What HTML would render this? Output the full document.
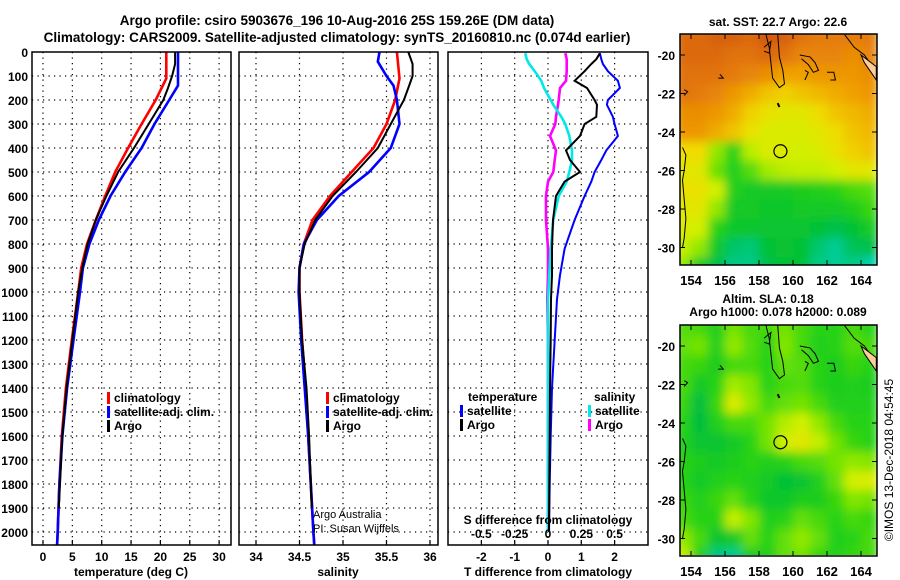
<!DOCTYPE html>
<html><head><meta charset="utf-8">
<style>
html,body{margin:0;padding:0;background:#fff;}
svg{display:block;font-family:"Liberation Sans",sans-serif;font-weight:bold;}
</style></head>
<body>
<svg id="fig" width="900" height="580" viewBox="0 0 900 580" xmlns="http://www.w3.org/2000/svg">
<defs>
<filter id="blur" x="0" y="0" width="1" height="1"><feGaussianBlur stdDeviation="5" edgeMode="duplicate"/></filter>
<clipPath id="clipMap1"><rect x="680" y="34" width="197" height="231"/></clipPath>
<clipPath id="clipMap2"><rect x="680" y="325" width="197" height="230"/></clipPath>
</defs>
<text x="337" y="25" font-size="13.5" text-anchor="middle">Argo profile: csiro 5903676_196 10-Aug-2016 25S 159.26E (DM data)</text>
<text x="337" y="42" font-size="13.5" text-anchor="middle">Climatology: CARS2009. Satellite-adjusted climatology: synTS_20160810.nc (0.074d earlier)</text>
<text x="778" y="26" font-size="12" text-anchor="middle">sat. SST: 22.7 Argo: 22.6</text>
<text x="768" y="303" font-size="12" text-anchor="middle">Altim. SLA: 0.18</text>
<text x="778" y="316" font-size="12" text-anchor="middle">Argo h1000: 0.078 h2000: 0.089</text>
<text transform="translate(893,460) rotate(-90)" font-size="12" font-weight="normal" text-anchor="middle">©IMOS 13-Dec-2018 04:54:45</text>
<g id="layer"></g>
</svg>
<script>
// ---------- data ----------
const depthTicks=[0,100,200,300,400,500,600,700,800,900,1000,1100,1200,1300,1400,1500,1600,1700,1800,1900,2000];
const tempTicks=[0,5,10,15,20,25,30];
const salTicks=[34,34.5,35,35.5,36];
const tdiffTicks=[-2,-1,0,1,2];
const sdiffTicks=[-0.5,-0.25,0,0.25,0.5];
const sdiffTickLabels=["-0.5","-0.25","0","0.25","0.5"];
const lonTicks=[154,156,158,160,162,164];
const latTicks=[-20,-22,-24,-26,-28,-30];

const climDepth=[0,110,200,300,400,500,600,700,800,900,1000,1200,1400,1600,1800,2000,2054];
const climTemp=[21.0,21.0,19.2,16.8,14.5,12.3,10.6,9.0,7.5,6.5,6.0,4.9,3.9,3.2,2.8,2.5,2.4];
const climSal=[35.62,35.65,35.6,35.5,35.35,35.1,34.85,34.65,34.55,34.5,34.5,34.53,34.57,34.6,34.63,34.66,34.67];
const satDepth=[0,40,100,140,200,300,400,500,600,700,800,900,1000,1200,1400,1600,1800,2000,2054];
const satTemp=[23.0,23.0,23.0,23.0,21.5,19.0,16.8,14.0,11.5,9.5,7.9,6.8,6.3,5.2,4.1,3.3,2.8,2.5,2.4];
const satSal=[35.42,35.4,35.5,35.58,35.62,35.65,35.55,35.3,34.95,34.7,34.55,34.5,34.49,34.52,34.56,34.6,34.63,34.66,34.67];
const argoDepth=[0,50,100,150,200,300,400,500,600,700,800,900,1000,1200,1400,1600,1800,1900];
const argoTemp=[22.5,22.5,22.0,21.3,20.5,18.0,15.5,12.8,10.8,9.0,7.6,6.7,6.0,5.0,4.0,3.3,2.9,2.7];
const argoSal=[35.75,35.8,35.8,35.75,35.7,35.55,35.4,35.15,34.88,34.68,34.56,34.5,34.5,34.53,34.58,34.61,34.63,34.64];

const diffDepth=[5,30,50,80,120,150,200,220,270,300,350,410,450,500,540,600,700,820,930,1030,1200,1400,1600,1800,2000];
const satTdiff=[1.56,1.6,1.65,1.8,2.1,2.16,1.8,1.77,1.95,2.0,2.1,1.75,1.6,1.4,1.3,1.1,0.8,0.5,0.36,0.27,0.2,0.12,0.08,0.05,0.03];
const argoTdiff=[1.56,1.45,1.3,1.1,0.8,1.17,1.4,1.47,1.45,1.1,0.96,0.54,0.66,0.96,0.5,0.24,0.15,0.12,0.12,0.09,0.08,0.06,0.05,0.04,0.03];
const satSdiff=[-0.17,-0.16,-0.14,-0.1,-0.05,-0.03,0.02,0.04,0.1,0.13,0.16,0.18,0.18,0.16,0.14,0.08,0.04,0.02,0.01,0.0,0.0,0.0,0.0,0.0,0.0];
const argoSdiff=[0.13,0.14,0.14,0.14,0.135,0.09,0.08,0.075,0.06,0.055,0.015,0.06,0.05,0.04,0.0,-0.015,-0.015,0.0,0.0,-0.005,0.0,0.0,0.0,0.0,0.0];

// map grids: rows lat -19..-31, cols lon 153.5..164.5 (values 0=cyan .. 1=dark red)
const sstGrid=[
[0.88,0.88,0.9,0.9,0.88,0.92,0.9,0.86,0.84,0.84,0.84,0.84],
[0.88,0.88,0.88,0.86,0.86,0.88,0.86,0.82,0.82,0.82,0.8,0.82],
[0.86,0.86,0.86,0.84,0.82,0.8,0.76,0.76,0.78,0.78,0.78,0.8],
[0.86,0.84,0.82,0.78,0.74,0.7,0.68,0.7,0.72,0.74,0.76,0.78],
[0.8,0.8,0.78,0.74,0.68,0.64,0.62,0.62,0.66,0.7,0.72,0.74],
[0.78,0.78,0.74,0.7,0.64,0.6,0.6,0.6,0.62,0.66,0.7,0.72],
[0.66,0.66,0.5,0.36,0.55,0.6,0.6,0.58,0.6,0.64,0.68,0.7],
[0.62,0.62,0.45,0.34,0.42,0.52,0.55,0.56,0.56,0.58,0.62,0.62],
[0.64,0.64,0.58,0.34,0.3,0.3,0.3,0.32,0.34,0.36,0.4,0.42],
[0.62,0.62,0.5,0.3,0.3,0.28,0.28,0.3,0.3,0.3,0.32,0.38],
[0.6,0.58,0.36,0.28,0.27,0.26,0.26,0.26,0.24,0.2,0.24,0.3],
[0.56,0.5,0.28,0.16,0.14,0.24,0.25,0.24,0.15,0.1,0.18,0.2],
[0.5,0.3,0.2,0.12,0.12,0.2,0.24,0.24,0.12,0.1,0.12,0.06]];
const slaGrid=[
[0.42,0.4,0.34,0.46,0.4,0.4,0.46,0.4,0.36,0.36,0.4,0.36],
[0.44,0.46,0.34,0.5,0.42,0.36,0.48,0.4,0.34,0.36,0.42,0.4],
[0.4,0.38,0.32,0.4,0.4,0.36,0.44,0.42,0.36,0.32,0.38,0.36],
[0.4,0.3,0.36,0.52,0.48,0.36,0.4,0.42,0.36,0.32,0.34,0.32],
[0.38,0.22,0.38,0.6,0.5,0.4,0.44,0.46,0.4,0.34,0.34,0.34],
[0.36,0.22,0.34,0.4,0.4,0.46,0.54,0.58,0.5,0.4,0.36,0.36],
[0.34,0.26,0.26,0.3,0.36,0.46,0.58,0.62,0.56,0.46,0.38,0.36],
[0.36,0.32,0.3,0.32,0.36,0.34,0.36,0.4,0.42,0.46,0.5,0.48],
[0.36,0.3,0.34,0.36,0.34,0.3,0.24,0.26,0.34,0.44,0.58,0.6],
[0.38,0.34,0.38,0.44,0.36,0.28,0.28,0.32,0.32,0.38,0.48,0.46],
[0.4,0.36,0.36,0.56,0.48,0.34,0.36,0.44,0.4,0.36,0.4,0.38],
[0.5,0.4,0.26,0.3,0.44,0.36,0.44,0.5,0.44,0.34,0.36,0.4],
[0.56,0.34,0.12,0.1,0.3,0.34,0.44,0.46,0.38,0.34,0.38,0.4]];
const argoLon=159.26, argoLat=-25.0;

// ---------- helpers ----------
const NS="http://www.w3.org/2000/svg";
const layer=document.getElementById('layer');
function el(tag,attrs,parent){const e=document.createElementNS(NS,tag);for(const k in attrs)e.setAttribute(k,attrs[k]);(parent||layer).appendChild(e);return e;}
const PT=52, PB=545;
const yD=d=>PT+d*0.24;
const P1={l:32,r:231}, P2={l:239,r:438}, P3={l:448,r:648};
const xT=t=>43+t*5.87;
const xS=s=>256+(s-34)*87;
const xTd=t=>548+t*33.3;
const xSd=s=>548+s*133.3;

function panel(P,name){
  const g=el('g',{});
  
  
  return g;
}
function frame(P,g){
  const r=el('rect',{x:P.l,y:PT,width:P.r-P.l,height:PB-PT,fill:'none',stroke:'#000','stroke-width':1.5},g);
  
  
}
function hgrid(P,g){
  depthTicks.forEach(d=>{
    if(d===0)return;
    const l=el('line',{x1:P.l,x2:P.r,y1:yD(d),y2:yD(d),stroke:'#000','stroke-width':1.2,'stroke-dasharray':'1.2 4.3'},g);
    
    
  });
}
function vgrid(xs,g){
  xs.forEach(x=>{
    const l=el('line',{x1:x,x2:x,y1:PT,y2:PB,stroke:'#000','stroke-width':1.2,'stroke-dasharray':'1.2 4.3'},g);
    
    
    el('line',{x1:x,x2:x,y1:PB,y2:PB-5,stroke:'#000','stroke-width':1.2},g);
  });
}
function series(xs,ds,fx,color,name,g,w){
  const pts=ds.map((d,i)=>fx(xs[i]).toFixed(1)+','+yD(d).toFixed(1)).join(' ');
  const p=el('polyline',{points:pts,fill:'none',stroke:color,'stroke-width':w||2.6,'stroke-linejoin':'miter'},g);
  
  
}
function txt(x,y,s,attrs,g,name){
  const t=el('text',Object.assign({x:x,y:y,'font-size':12},attrs||{}),g);
  t.textContent=s;
  
  
  return t;
}
function legendItem(x,y,color,label,g){
  const b=el('rect',{x:x,y:y-10,width:3,height:12,fill:color},g);
  
  
  txt(x+7,y,label,{},g,'legend-entry');
}

// ---------- panel 1: temperature ----------
const g1=panel(P1,'temperature-panel');
hgrid(P1,g1); vgrid(tempTicks.map(xT),g1);
series(climTemp,climDepth,xT,'#ff0000','climatology-temp-line',g1);
series(satTemp,satDepth,xT,'#0000ff','satellite-temp-line',g1);
series(argoTemp,argoDepth,xT,'#000000','argo-temp-line',g1,2);
frame(P1,g1);
depthTicks.forEach(d=>txt(28,yD(d)+5,String(d),{'text-anchor':'end'},g1,'depth-tick-label'));
tempTicks.forEach(t=>txt(xT(t),561,String(t),{'text-anchor':'middle'},g1,'temp-tick-label'));
txt(131,576,'temperature (deg C)',{'text-anchor':'middle'},g1,'x-axis-title-temperature');
legendItem(107,402,'#ff0000','climatology',g1);
legendItem(107,416,'#0000ff','satellite-adj. clim.',g1);
legendItem(107,430,'#000000','Argo',g1);

// ---------- panel 2: salinity ----------
const g2=panel(P2,'salinity-panel');
hgrid(P2,g2); vgrid(salTicks.map(xS),g2);
series(climSal,climDepth,xS,'#ff0000','climatology-sal-line',g2);
series(satSal,satDepth,xS,'#0000ff','satellite-sal-line',g2);
series(argoSal,argoDepth,xS,'#000000','argo-sal-line',g2,2);
frame(P2,g2);
salTicks.forEach(s=>txt(xS(s),561,String(s),{'text-anchor':'middle'},g2,'sal-tick-label'));
txt(338,576,'salinity',{'text-anchor':'middle'},g2,'x-axis-title-salinity');
legendItem(326,402,'#ff0000','climatology',g2);
legendItem(326,416,'#0000ff','satellite-adj. clim.',g2);
legendItem(326,430,'#000000','Argo',g2);
txt(313,518,'Argo Australia',{'font-weight':'normal','font-size':11},g2,'credit-argo-australia');
txt(313,532,'PI: Susan Wijffels',{'font-weight':'normal','font-size':11},g2,'credit-pi');

// ---------- panel 3: differences ----------
const g3=panel(P3,'difference-panel');
hgrid(P3,g3); vgrid(tdiffTicks.map(xTd),g3);
series(argoSdiff,diffDepth,xSd,'#ff00ff','argo-sal-diff-line',g3);
series(satSdiff,diffDepth,xSd,'#00e8e8','satellite-sal-diff-line',g3);
series(satTdiff,diffDepth,xTd,'#0000ff','satellite-temp-diff-line',g3,2);
series(argoTdiff,diffDepth,xTd,'#000000','argo-temp-diff-line',g3,2);
frame(P3,g3);
tdiffTicks.forEach(t=>txt(xTd(t),561,String(t),{'text-anchor':'middle'},g3,'tdiff-tick-label'));
sdiffTicks.forEach((s,i)=>txt(xSd(s),538,sdiffTickLabels[i],{'text-anchor':'middle'},g3,'sdiff-tick-label'));
txt(548,524,'S difference from climatology',{'text-anchor':'middle'},g3,'s-diff-axis-title');
txt(548,576,'T difference from climatology',{'text-anchor':'middle'},g3,'x-axis-title-tdiff');
txt(468,401,'temperature',{},g3,'legend-title-temperature');
legendItem(460,415,'#0000ff','satellite',g3);
legendItem(460,429,'#000000','Argo',g3);
txt(594,401,'salinity',{},g3,'legend-title-salinity');
legendItem(588,415,'#00e8e8','satellite',g3);
legendItem(588,429,'#ff00ff','Argo',g3);

// ---------- maps ----------
const stops=[[0,[0,216,224]],[0.22,[0,190,60]],[0.36,[40,210,20]],[0.48,[130,230,0]],[0.58,[210,240,0]],[0.66,[240,220,0]],[0.76,[240,160,0]],[0.86,[225,115,15]],[1,[190,50,10]]];
function cmap(v){
  for(let i=1;i<stops.length;i++){if(v<=stops[i][0]){const a=stops[i-1],b=stops[i];const f=(v-a[0])/(b[0]-a[0]);const c=a[1].map((x,k)=>Math.round(x+(b[1][k]-x)*f));return 'rgb('+c.join(',')+')';}}
  return 'rgb(190,50,10)';
}
function drawMap(grid,top,name,clip){
  const g=el('g',{});
  
  
  const xL=lon=>691+(lon-154)*17;
  const yL=lat=>top+21+(-20-lat)*19.25;
  const cells=el('g',{'clip-path':'url(#'+clip+')'},g);
  const inner=el('g',{filter:'url(#blur)'},cells);
  grid.forEach((row,r)=>row.forEach((v,c)=>{
    const lon0=153.0+c, lat0=-18.5-r;
    const rc=el('rect',{x:xL(lon0).toFixed(1),y:yL(lat0).toFixed(1),width:17.5,height:19.8,fill:cmap(v)},inner);
    
    
  }));
  // coastlines
  const coast=el('g',{'clip-path':'url(#'+clip+')',fill:'none',stroke:'#000','stroke-width':1},g);
  
  
  const paths=[
    [[158.4,-18.9],[158.6,-19.6],[158.7,-20.4],[158.8,-21.2],[159.2,-21.7],[159.5,-21.5],[159.4,-20.8],[159.2,-20.1],[159.1,-18.9]],
    [[158.3,-19.6],[158.7,-19.3],[158.6,-19.9],[158.3,-19.8]],
    [[160.4,-20.0],[161.0,-20.1],[161.3,-20.4],[161.5,-20.8],[161.2,-20.9],[160.9,-20.5],[160.5,-20.2]],
    [[160.7,-20.8],[160.9,-20.9],[160.7,-21.3]],
    [[162.0,-20.9],[162.4,-20.9],[162.5,-21.3],[162.2,-21.3]],
    [[155.7,-21.0],[155.9,-21.2],[155.6,-21.2]],
    [[163.0,-18.9],[163.6,-19.6],[164.2,-20.0],[164.9,-20.9]],
    [[153.6,-21.8],[153.8,-21.9],[153.6,-22.1]],
    [[153.5,-24.8],[153.7,-25.2],[153.6,-26.0],[153.5,-26.5],[153.6,-27.5],[153.7,-28.5],[153.6,-29.5],[153.5,-30.0]]
  ];
  paths.forEach(p=>{el('polyline',{points:p.map(q=>xL(q[0]).toFixed(1)+','+yL(q[1]).toFixed(1)).join(' ')},coast);});
  el('polygon',{points:[[164.0,-20.0],[164.9,-20.6],[164.9,-21.3],[164.2,-20.4]].map(q=>xL(q[0]).toFixed(1)+','+yL(q[1]).toFixed(1)).join(' '),fill:'#ffcc99',stroke:'#000'},coast);
  el('line',{x1:xL(159.1),x2:xL(159.2),y1:yL(-22.5),y2:yL(-22.7),stroke:'#000','stroke-width':2},coast);
  const c=el('circle',{cx:xL(argoLon),cy:yL(argoLat),r:6.5,fill:'none',stroke:'#000','stroke-width':1.2},g);
  
  
  const f=el('rect',{x:680,y:top,width:197,height:231,fill:'none',stroke:'#000','stroke-width':1.5},g);
  
  
  lonTicks.forEach(lon=>{
    el('line',{x1:xL(lon),x2:xL(lon),y1:top,y2:top+5,stroke:'#000'},g);
    el('line',{x1:xL(lon),x2:xL(lon),y1:top+231,y2:top+226,stroke:'#000'},g);
    txt(xL(lon),top+251,String(lon),{'text-anchor':'middle','font-size':13},g,'lon-tick-label');
  });
  latTicks.forEach(lat=>{
    el('line',{x1:680,x2:685,y1:yL(lat),y2:yL(lat),stroke:'#000'},g);
    el('line',{x1:877,x2:872,y1:yL(lat),y2:yL(lat),stroke:'#000'},g);
    txt(675,yL(lat)+5,String(lat),{'text-anchor':'end','font-size':12},g,'lat-tick-label');
  });
}
drawMap(sstGrid,34,'sst-map','clipMap1');
drawMap(slaGrid,325,'sla-map','clipMap2');
</script>
</body></html>
